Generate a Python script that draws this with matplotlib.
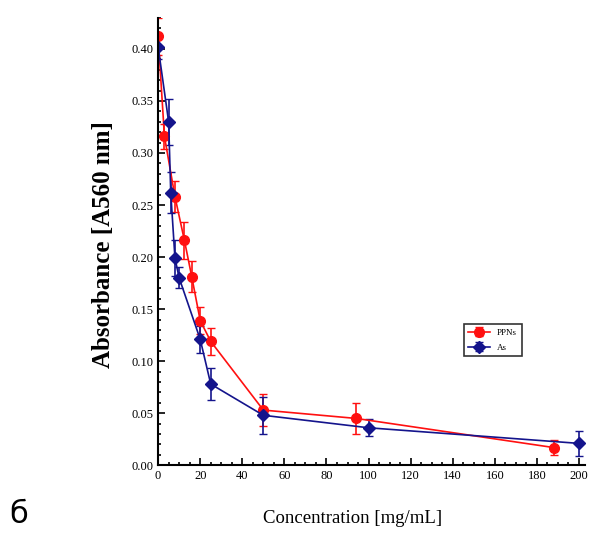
import matplotlib
matplotlib.use("Agg")
import matplotlib.pyplot as plt
from matplotlib.ticker import MultipleLocator

# concentrations [mg/mL] and absorbance values
conc_ppn = [0, 3, 8, 12.5, 16, 20, 25, 50, 94, 188]
abs_ppn = [0.412, 0.316, 0.258, 0.216, 0.181, 0.139, 0.119, 0.053, 0.045, 0.017]
err_ppn = [0.018, 0.012, 0.015, 0.018, 0.015, 0.013, 0.013, 0.015, 0.015, 0.007]

conc_as = [0, 5, 6, 8, 10, 20, 25, 50, 100, 200]
abs_as = [0.402, 0.330, 0.262, 0.199, 0.180, 0.121, 0.078, 0.048, 0.036, 0.021]
err_as = [0.012, 0.022, 0.020, 0.017, 0.010, 0.013, 0.015, 0.018, 0.008, 0.012]

labels = ["PPNs", "As"]
colors = ["#ff1010", "#14148c"]

plt.rcParams["font.family"] = ["Liberation Serif", "DejaVu Serif"]

fig = plt.figure(figsize=(5.9, 5.36), dpi=100)
ax = fig.add_axes([0.268, 0.132, 0.724, 0.835])

for x, y, e, lab, c, m in [(conc_ppn, abs_ppn, err_ppn, labels[0], colors[0], "o"),
                           (conc_as, abs_as, err_as, labels[1], colors[1], "D")]:
    ax.errorbar(x, y, yerr=e, color=c, marker=m, markersize=7 if m == "o" else 6,
                lw=1.2, elinewidth=1.2, capsize=3, label=lab)

ax.set_xlim(0, 203)
ax.set_ylim(0, 0.43)
ax.xaxis.set_major_locator(MultipleLocator(20))
ax.xaxis.set_minor_locator(MultipleLocator(5))
ax.yaxis.set_major_locator(MultipleLocator(0.05))
ax.yaxis.set_minor_locator(MultipleLocator(0.01))
ax.set_yticks([0, 0.05, 0.10, 0.15, 0.20, 0.25, 0.30, 0.35, 0.40])
ax.set_yticklabels(["%.2f" % v for v in ax.get_yticks()])
ax.tick_params(which="both", direction="in", labelsize=9, width=1.2)
ax.tick_params(which="major", length=5)
ax.tick_params(which="minor", length=2.5)
ax.spines["top"].set_visible(False)
ax.spines["right"].set_visible(False)
ax.spines["left"].set_linewidth(1.5)
ax.spines["bottom"].set_linewidth(1.5)

ax.set_ylabel("Absorbance [A560 nm]", fontsize=18, fontweight="bold")
ax.yaxis.set_label_coords(-0.1, 0.492)
ax.set_xlabel("Concentration [mg/mL]", fontsize=13.5)
ax.xaxis.set_label_coords(0.455, -0.1)

leg = ax.legend(loc="upper left", bbox_to_anchor=(0.705, 0.325), fontsize=6.5,
                frameon=True, fancybox=False, edgecolor="black",
                handlelength=2.4, borderpad=0.5, labelspacing=0.7)
leg.get_frame().set_linewidth(1.2)

fig.text(0.015, 0.025, "б", fontsize=22, family="DejaVu Sans")

fig.savefig("out.png", dpi=100)
